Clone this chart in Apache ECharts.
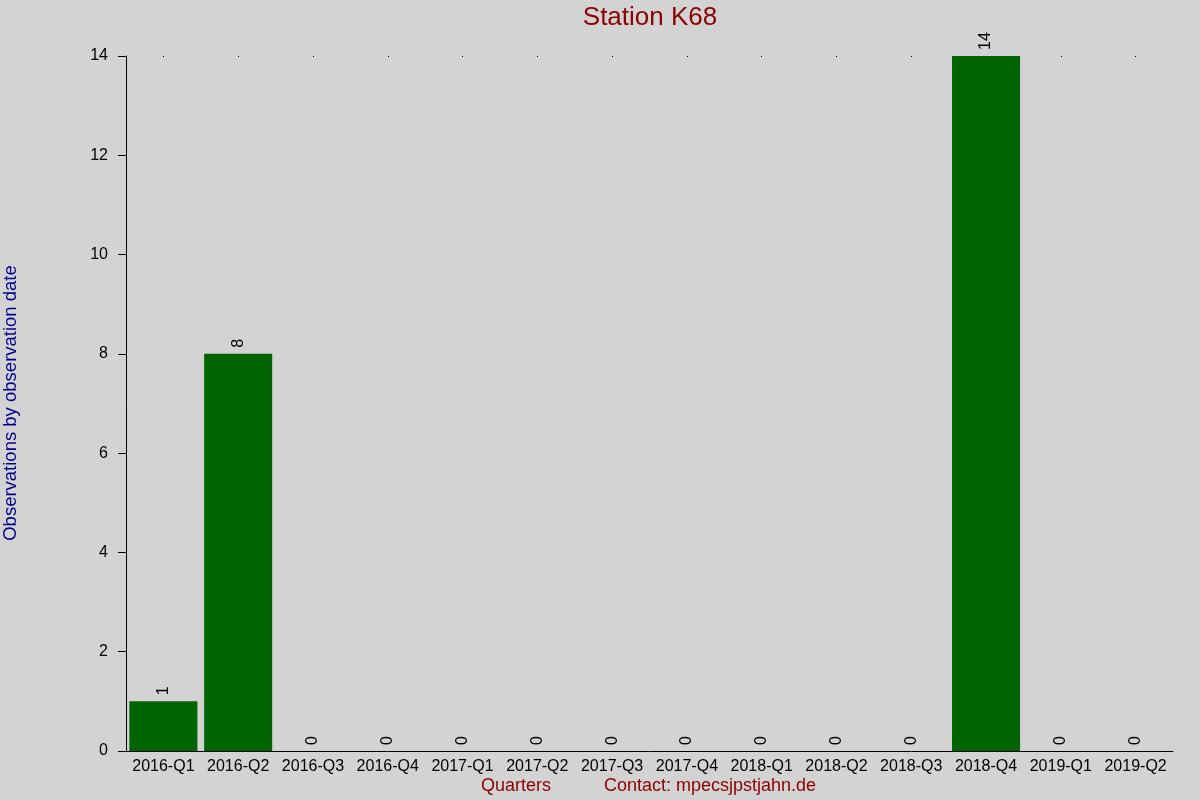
<!DOCTYPE html>
<html>
<head>
<meta charset="utf-8">
<script src="https://cdn.jsdelivr.net/npm/echarts@6/dist/echarts.min.js"></script>
<style>
html,body{margin:0;padding:0;background:#d3d3d3;}
#chart{width:1200px;height:800px;}
</style>
</head>
<body>
<div id="chart"></div>
<script>
const categories = ["2016-Q1","2016-Q2","2016-Q3","2016-Q4","2017-Q1","2017-Q2","2017-Q3","2017-Q4","2018-Q1","2018-Q2","2018-Q3","2018-Q4","2019-Q1","2019-Q2"];
const observations = [1, 8, 0, 0, 0, 0, 0, 0, 0, 0, 0, 14, 0, 0];
const yTicks = { min: 0, max: 14, interval: 2 };
const titleText = "Station K68";
const yName = "Observations by observation date";
const xName = "Quarters";
const contactText = "Contact: mpecsjpstjahn.de";

const FONT = "Liberation Sans, Arial, sans-serif";
const chart = echarts.init(document.getElementById('chart'), null, {renderer: 'canvas'});
chart.setOption({
  backgroundColor: '#d3d3d3',
  animation: false,
  grid: { left: 126, right: 27, top: 56, bottom: 49 },
  xAxis: [{
    type: 'category',
    data: categories,
    axisLine: { show: true, lineStyle: { color: '#000', width: 1 } },
    axisTick: { show: false },
    axisLabel: { color: '#000', fontSize: 16, fontFamily: FONT, margin: 8, interval: 0 },
    splitLine: { show: false }
  }, {
    type: 'category',
    position: 'top',
    data: categories,
    axisLine: { show: false },
    axisTick: { show: true, alignWithLabel: true, inside: true, length: 1, lineStyle: { color: '#000' } },
    axisLabel: { show: false },
    splitLine: { show: false }
  }],
  yAxis: {
    type: 'value',
    min: yTicks.min, max: yTicks.max, interval: yTicks.interval,
    axisLine: { show: true, lineStyle: { color: '#000', width: 1 } },
    axisTick: { show: true, length: 8, lineStyle: { color: '#000' } },
    axisLabel: { color: '#000', fontSize: 16, fontFamily: FONT, margin: 18 },
    splitLine: { show: false }
  },
  series: [{
    type: 'bar',
    data: observations,
    xAxisIndex: 0,
    barCategoryGap: '9%',
    itemStyle: { color: '#006400' },
    label: {
      show: true,
      position: 'top',
      rotate: 90,
      align: 'left',
      verticalAlign: 'middle',
      distance: 6,
      color: '#000',
      fontSize: 16,
      fontFamily: FONT
    }
  }],
  graphic: [
    { type: 'text', x: 650, y: 18, style: { text: titleText, fill: '#8b0000', font: '26px ' + FONT, align: 'center', verticalAlign: 'middle' } },
    { type: 'text', rotation: Math.PI / 2, x: 11, y: 403, style: { text: yName, fill: '#00008b', font: '18.5px ' + FONT, align: 'center', verticalAlign: 'middle' } },
    { type: 'text', x: 516, y: 786, style: { text: xName, fill: '#8b0000', font: '18px ' + FONT, align: 'center', verticalAlign: 'middle' } },
    { type: 'text', x: 710, y: 786, style: { text: contactText, fill: '#8b0000', font: '18px ' + FONT, align: 'center', verticalAlign: 'middle' } }
  ]
});
</script>
</body>
</html>
